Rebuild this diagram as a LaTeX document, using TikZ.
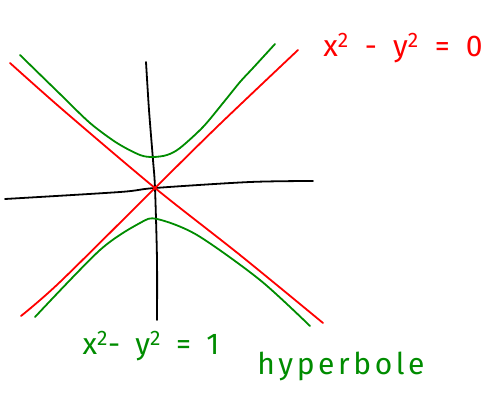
\documentclass[tikz,border=0pt]{standalone}
\usepackage{fontspec}
\setmainfont{Fira Sans}
\usepackage{tikz}

\begin{document}
\begin{tikzpicture}[
  x=1pt, y=-1pt,
  % Styles
  axis/.style={line width=1.8pt, black, line cap=round},
  asym/.style={line width=1.8pt, red, line cap=round},
  hyp/.style={line width=1.8pt, green!55!black, line cap=round},
  lbl/.style={font=\fontsize{30}{34}\selectfont\addfontfeature{LetterSpace=#1}, inner sep=0pt},
]
  \useasboundingbox (0,0) rectangle (492,398);

  % ── AXES ──────────────────────────────────────────────────
  \draw[axis] plot[smooth] coordinates {(5,199) (120,192) (155,188) (250,182) (313,181)};
  \draw[axis] plot[smooth] coordinates {(146,62) (149,110) (153,160) (155,188) (157,260) (157,320)};

  % ── ASYMPTOTES ────────────────────────────────────────────
  \draw[asym] plot[smooth] coordinates {(10,63) (63,110) (155,188) (240,255) (323,323)};
  \draw[asym] plot[smooth] coordinates {(298,50) (220,124) (155,188) (60,282) (21,316)};

  % ── HYPERBOLA ─────────────────────────────────────────────
  \draw[hyp] plot[smooth] coordinates {(20,55) (60,94) (90,123) (117,143) (140,155) (153,157) (167,155) (180,148) (203,127) (223,103) (240,82) (253,68) (275,44)};
  \draw[hyp] plot[smooth] coordinates {(35,317) (100,250) (140,223) (157,219) (197,235) (260,280) (310,326)};

  % ── LABELS ────────────────────────────────────────────────
  \node[lbl=27, text=red] (zero) at (403,48) {x\textsuperscript{2} - y\textsuperscript{2} = 0};
  \node[lbl=24, text=green!55!black] (one) at (151,346) {x\textsuperscript{2}- y\textsuperscript{2} = 1};
  \node[lbl=12, text=green!55!black] (name) at (341,366) {hyperbole};

\end{tikzpicture}
\end{document}
